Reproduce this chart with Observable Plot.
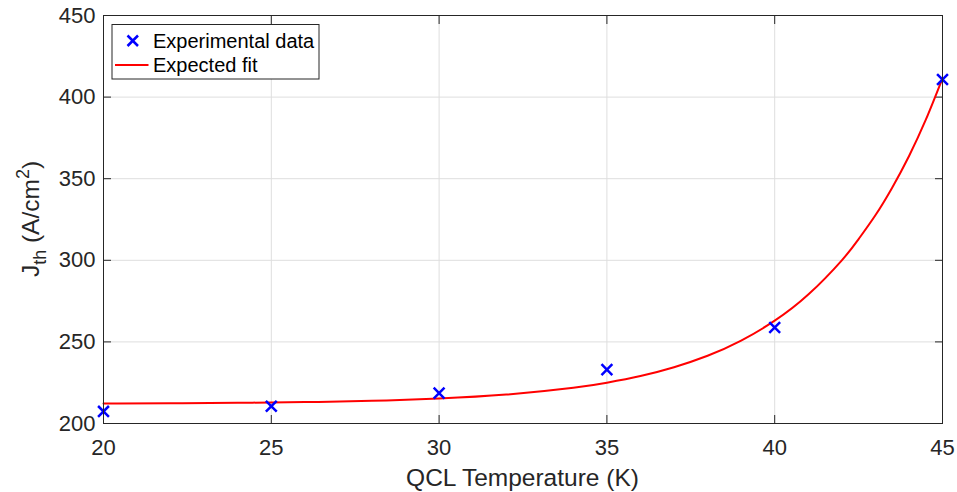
<!DOCTYPE html>
<html>
<head>
<meta charset="utf-8">
<script src="https://cdn.jsdelivr.net/npm/d3@7"></script>
<script src="https://cdn.jsdelivr.net/npm/@observablehq/plot@0.6"></script>
<style>
  html, body { margin: 0; padding: 0; background: #fff; }
  #chart svg { display: block; font-family: "Liberation Sans", Arial, sans-serif; }
</style>
</head>
<body>
<div id="chart"></div>
<script>
// Experimental data
const tempK = [20, 25, 30, 35, 40, 45];
const jth = [207.4, 210.6, 218.6, 233.0, 258.8, 410.8];

// Expected fit curve
const fitT = [20, 22, 24, 26, 28, 30, 32, 34, 35, 36, 37, 38, 39, 40, 41, 42, 42.5, 43, 43.5, 44, 44.5, 45];
const fitJ = [212.2, 212.4, 212.7, 213.1, 213.9, 215.3, 217.7, 221.9, 225.0, 229.1, 234.5, 241.5, 250.8, 263.0, 279.0, 300.0, 313.0, 327.6, 344.5, 363.8, 386.0, 411.5];

const xTicks = [20, 25, 30, 35, 40, 45];
const yTicks = [200, 250, 300, 350, 400, 450];

const points = tempK.map((t, i) => ({t, j: jth[i]}));
const fit = fitT.map((t, i) => ({t, j: fitJ[i]}));

const axisColor = "#262626";

const plot = Plot.plot({
  width: 957,
  height: 492,
  marginLeft: 103,
  marginRight: 15,
  marginTop: 15,
  marginBottom: 69,
  style: {fontFamily: "'Liberation Sans', Arial, sans-serif", fontSize: "22px", color: axisColor, background: "#fff"},
  x: {domain: [20, 45], ticks: xTicks, label: null},
  y: {domain: [200, 450], ticks: yTicks, label: null},
  marks: [
    Plot.gridX(xTicks, {stroke: "#dedede", strokeOpacity: 1, strokeWidth: 1}),
    Plot.gridY(yTicks, {stroke: "#dedede", strokeOpacity: 1, strokeWidth: 1}),
    Plot.axisX(xTicks, {anchor: "bottom", tickSize: 0, tickPadding: 16, fontSize: 22, fill: axisColor, label: null}),
    Plot.axisY(yTicks, {anchor: "left", tickSize: 0, tickPadding: 8, fontSize: 22, fill: axisColor, label: null}),
    Plot.axisX(xTicks, {anchor: "bottom", tickSize: -8, tickFormat: () => "", stroke: axisColor, label: null}),
    Plot.axisX(xTicks, {anchor: "top", tickSize: -8, tickFormat: () => "", stroke: axisColor, label: null}),
    Plot.axisY(yTicks, {anchor: "left", tickSize: -8, tickFormat: () => "", stroke: axisColor, label: null}),
    Plot.axisY(yTicks, {anchor: "right", tickSize: -8, tickFormat: () => "", stroke: axisColor, label: null}),
    Plot.line(fit, {x: "t", y: "j", stroke: "#ff0000", strokeWidth: 2, curve: "natural"}),
    Plot.dot(points, {x: "t", y: "j", symbol: "times", r: 5, stroke: "#0000ff", strokeWidth: 2.5}),
    Plot.frame({stroke: axisColor, strokeWidth: 1})
  ]
});

document.getElementById("chart").appendChild(plot);

const svg = d3.select(plot);
const font = "'Liberation Sans', Arial, sans-serif";

// X axis label
svg.append("text")
  .attr("x", 522.5).attr("y", 485.5)
  .attr("text-anchor", "middle")
  .attr("font-family", font).attr("font-size", 24.5)
  .attr("fill", axisColor)
  .text("QCL Temperature (K)");

// Y axis label with subscript / superscript
const yl = svg.append("text")
  .attr("transform", "translate(38.5,219) rotate(-90)")
  .attr("text-anchor", "middle")
  .attr("font-family", font).attr("font-size", 24.5)
  .attr("fill", axisColor);
yl.append("tspan").text("J");
yl.append("tspan").attr("font-size", 18).attr("dy", 7).text("th");
yl.append("tspan").attr("dy", -7).text(" (A/cm");
yl.append("tspan").attr("font-size", 18).attr("dy", -10).text("2");
yl.append("tspan").attr("dy", 10).text(")");

// Legend
const lg = svg.append("g");
lg.append("rect").attr("x", 112).attr("y", 24.5).attr("width", 207).attr("height", 54.5)
  .attr("fill", "#fff").attr("stroke", axisColor).attr("stroke-width", 1);
lg.append("path").attr("d", "M127.5,35.5L138,46M127.5,46L138,35.5")
  .attr("stroke", "#0000ff").attr("stroke-width", 2.5).attr("fill", "none");
lg.append("line").attr("x1", 115).attr("x2", 148.5).attr("y1", 65).attr("y2", 65)
  .attr("stroke", "#ff0000").attr("stroke-width", 2);
lg.append("text").attr("x", 153).attr("y", 47.5).attr("text-anchor", "start")
  .attr("font-family", font).attr("font-size", 20).attr("fill", "#000")
  .text("Experimental data");
lg.append("text").attr("x", 153).attr("y", 72).attr("text-anchor", "start")
  .attr("font-family", font).attr("font-size", 20).attr("fill", "#000")
  .text("Expected fit");
</script>
</body>
</html>
